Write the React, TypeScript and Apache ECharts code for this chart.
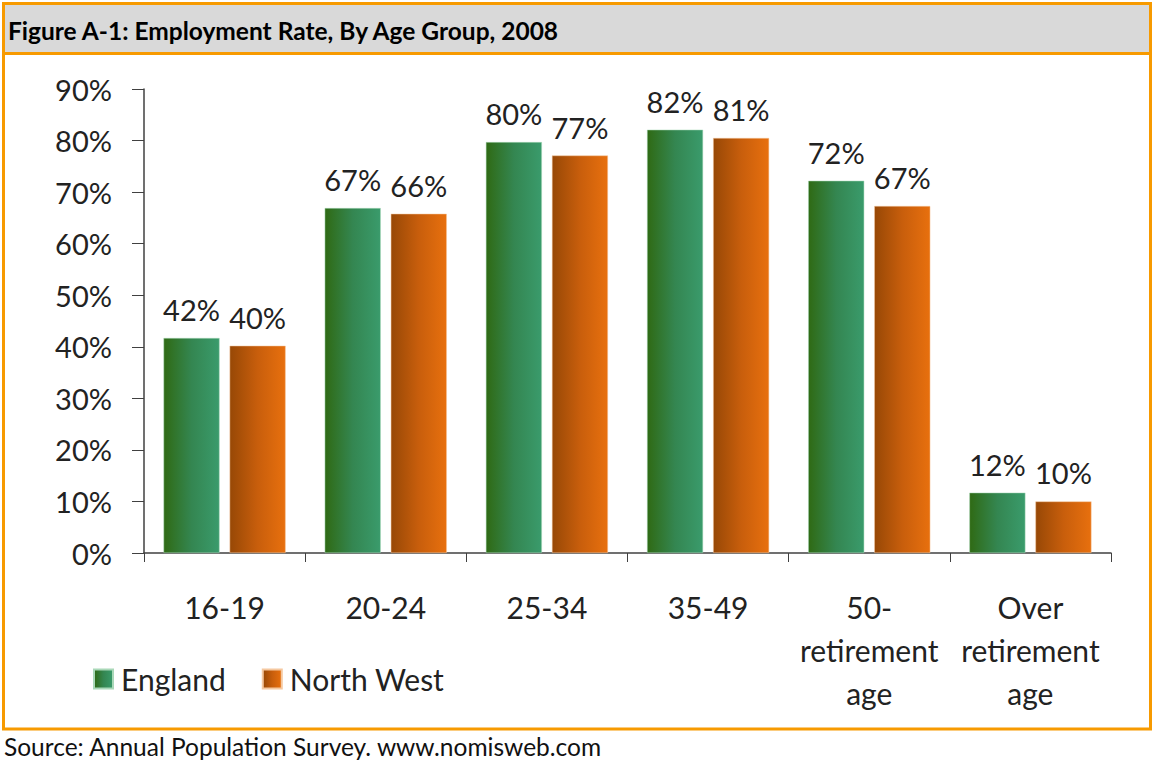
import React, { useEffect, useRef } from "react";
import * as echarts from "echarts";

const categories = ["16-19", "20-24", "25-34", "35-49", "50-\nretirement\nage", "Over\nretirement\nage"];
const englandValues = [41.7, 66.9, 79.7, 82.1, 72.2, 11.7];
const northWestValues = [40.2, 65.8, 77.1, 80.5, 67.3, 10.0];
const seriesNames = ["England", "North West"];
const titleText = "Figure A-1: Employment Rate, By Age Group, 2008";
const sourceText = "Source: Annual Population Survey. www.nomisweb.com";

const FONT = "Lato, 'Noto Sans', sans-serif";
const ORANGE = "#f79a00";

const greenGrad = new echarts.graphic.LinearGradient(0, 0, 1, 0, [
  { offset: 0, color: "#2f6a14" },
  { offset: 0.5, color: "#348651" },
  { offset: 1, color: "#3a9b6c" },
]);
const orangeGrad = new echarts.graphic.LinearGradient(0, 0, 1, 0, [
  { offset: 0, color: "#974806" },
  { offset: 0.5, color: "#c85e0c" },
  { offset: 1, color: "#e8700e" },
]);

export default function App() {
  const ref = useRef<HTMLDivElement>(null);
  useEffect(() => {
    const chart = echarts.init(ref.current!, null, { renderer: "svg" });
    const labelCfg = {
      show: true,
      position: "top",
      distance: 14,
      fontFamily: FONT,
      fontSize: 29,
      color: "#222",
      formatter: (p: any) => Math.round(p.value) + "%",
    };
    chart.setOption({
      animation: false,
      backgroundColor: "#fff",
      textStyle: { fontFamily: FONT },
      grid: { left: 144, right: 43, top: 89, bottom: 207, containLabel: false },
      legend: {
        left: 88,
        top: 659,
        itemWidth: 19,
        itemHeight: 19,
        itemGap: 36,
        icon: "rect",
        data: seriesNames,
        textStyle: { fontFamily: FONT, fontSize: 30, color: "#222", padding: [0, 0, 0, 3] },
      },
      xAxis: {
        type: "category",
        data: categories,
        axisLine: { lineStyle: { color: "#404040", width: 1.5 } },
        axisTick: { show: true, length: 9, lineStyle: { color: "#404040" } },
        axisLabel: {
          fontFamily: FONT,
          fontSize: 30,
          color: "#222",
          margin: 32,
          lineHeight: 43,
          interval: 0,
        },
      },
      yAxis: {
        type: "value",
        min: 0,
        max: 90,
        interval: 10,
        splitLine: { show: false },
        axisLine: { show: true, lineStyle: { color: "#404040", width: 1.5 } },
        axisTick: { show: true, length: 12, lineStyle: { color: "#404040" } },
        axisLabel: {
          formatter: "{value}%",
          fontFamily: FONT,
          fontSize: 29,
          color: "#222",
          margin: 32,
        },
      },
      series: [
        {
          name: seriesNames[0],
          type: "bar",
          data: englandValues,
          barWidth: 56,
          barGap: "18%",
          itemStyle: { color: greenGrad, borderColor: "#a9d8b8", borderWidth: 0.5 },
          label: labelCfg,
        },
        {
          name: seriesNames[1],
          type: "bar",
          data: northWestValues,
          barWidth: 56,
          barGap: "18%",
          itemStyle: { color: orangeGrad, borderColor: "#f5c8a0", borderWidth: 0.5 },
          label: labelCfg,
        },
      ],
      graphic: [
        {
          type: "rect",
          shape: { x: 3.5, y: 3.5, width: 1147, height: 50 },
          style: { fill: "#d9d9d9", stroke: "none" },
          z: -1,
        },
        {
          type: "rect",
          shape: { x: 3.5, y: 3.5, width: 1147, height: 725.5 },
          style: { fill: "none", stroke: ORANGE, lineWidth: 3 },
        },
        {
          type: "line",
          shape: { x1: 3.5, y1: 53.5, x2: 1150.5, y2: 53.5 },
          style: { stroke: ORANGE, lineWidth: 3 },
        },
        {
          type: "text",
          x: 8,
          y: 30,
          style: {
            text: titleText,
            fontFamily: FONT,
            fontWeight: "bold",
            fontSize: 24.5,
            fill: "#000",
            verticalAlign: "middle",
          },
        },
        {
          type: "text",
          x: 4,
          y: 746,
          style: {
            text: sourceText,
            fontFamily: FONT,
            fontSize: 24.5,
            fill: "#111",
            verticalAlign: "middle",
          },
        },
      ],
    });
    return () => chart.dispose();
  }, []);
  return (
    <div
      ref={ref}
      style={{ position: "absolute", left: 0, top: 0, width: 1154, height: 760 }}
    />
  );
}
